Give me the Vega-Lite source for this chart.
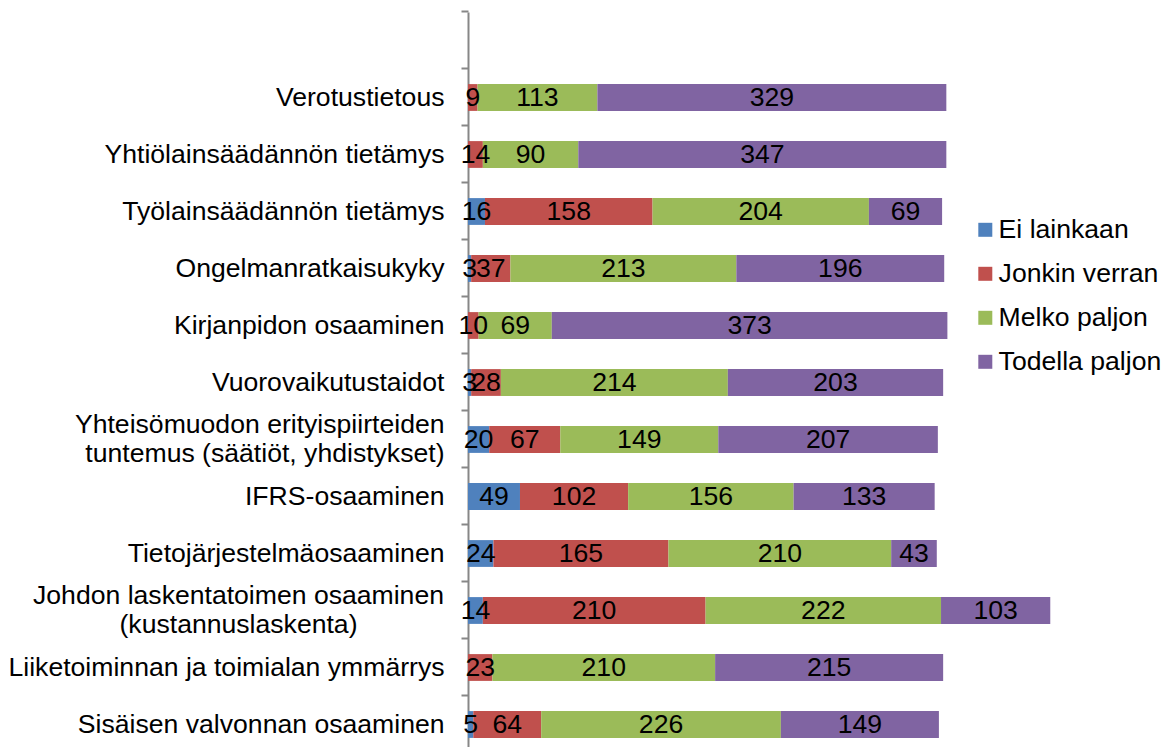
{
  "$schema": "https://vega.github.io/schema/vega-lite/v6.json",
  "width": 700,
  "height": 735,
  "autosize": {"type": "none"},
  "padding": {"left": 468, "top": 12, "right": 0, "bottom": 0},
  "background": "white",
  "config": {"view": {"stroke": null}},
  "data": {
    "values": [
      {"k": "Verotustietous", "v": "Jonkin verran", "n": 9},
      {"k": "Verotustietous", "v": "Melko paljon", "n": 113},
      {"k": "Verotustietous", "v": "Todella paljon", "n": 329},
      {"k": "Yhtiölainsäädännön tietämys", "v": "Jonkin verran", "n": 14},
      {"k": "Yhtiölainsäädännön tietämys", "v": "Melko paljon", "n": 90},
      {"k": "Yhtiölainsäädännön tietämys", "v": "Todella paljon", "n": 347},
      {"k": "Työlainsäädännön tietämys", "v": "Ei lainkaan", "n": 16},
      {"k": "Työlainsäädännön tietämys", "v": "Jonkin verran", "n": 158},
      {"k": "Työlainsäädännön tietämys", "v": "Melko paljon", "n": 204},
      {"k": "Työlainsäädännön tietämys", "v": "Todella paljon", "n": 69},
      {"k": "Ongelmanratkaisukyky", "v": "Ei lainkaan", "n": 3},
      {"k": "Ongelmanratkaisukyky", "v": "Jonkin verran", "n": 37},
      {"k": "Ongelmanratkaisukyky", "v": "Melko paljon", "n": 213},
      {"k": "Ongelmanratkaisukyky", "v": "Todella paljon", "n": 196},
      {"k": "Kirjanpidon osaaminen", "v": "Jonkin verran", "n": 10},
      {"k": "Kirjanpidon osaaminen", "v": "Melko paljon", "n": 69},
      {"k": "Kirjanpidon osaaminen", "v": "Todella paljon", "n": 373},
      {"k": "Vuorovaikutustaidot", "v": "Ei lainkaan", "n": 3},
      {"k": "Vuorovaikutustaidot", "v": "Jonkin verran", "n": 28},
      {"k": "Vuorovaikutustaidot", "v": "Melko paljon", "n": 214},
      {"k": "Vuorovaikutustaidot", "v": "Todella paljon", "n": 203},
      {"k": "Yhteisömuodon erityispiirteiden|tuntemus (säätiöt, yhdistykset)", "v": "Ei lainkaan", "n": 20},
      {"k": "Yhteisömuodon erityispiirteiden|tuntemus (säätiöt, yhdistykset)", "v": "Jonkin verran", "n": 67},
      {"k": "Yhteisömuodon erityispiirteiden|tuntemus (säätiöt, yhdistykset)", "v": "Melko paljon", "n": 149},
      {"k": "Yhteisömuodon erityispiirteiden|tuntemus (säätiöt, yhdistykset)", "v": "Todella paljon", "n": 207},
      {"k": "IFRS-osaaminen", "v": "Ei lainkaan", "n": 49},
      {"k": "IFRS-osaaminen", "v": "Jonkin verran", "n": 102},
      {"k": "IFRS-osaaminen", "v": "Melko paljon", "n": 156},
      {"k": "IFRS-osaaminen", "v": "Todella paljon", "n": 133},
      {"k": "Tietojärjestelmäosaaminen", "v": "Ei lainkaan", "n": 24},
      {"k": "Tietojärjestelmäosaaminen", "v": "Jonkin verran", "n": 165},
      {"k": "Tietojärjestelmäosaaminen", "v": "Melko paljon", "n": 210},
      {"k": "Tietojärjestelmäosaaminen", "v": "Todella paljon", "n": 43},
      {"k": "Johdon laskentatoimen osaaminen|(kustannuslaskenta)", "v": "Ei lainkaan", "n": 14},
      {"k": "Johdon laskentatoimen osaaminen|(kustannuslaskenta)", "v": "Jonkin verran", "n": 210},
      {"k": "Johdon laskentatoimen osaaminen|(kustannuslaskenta)", "v": "Melko paljon", "n": 222},
      {"k": "Johdon laskentatoimen osaaminen|(kustannuslaskenta)", "v": "Todella paljon", "n": 103},
      {"k": "Liiketoiminnan ja toimialan ymmärrys", "v": "Jonkin verran", "n": 23},
      {"k": "Liiketoiminnan ja toimialan ymmärrys", "v": "Melko paljon", "n": 210},
      {"k": "Liiketoiminnan ja toimialan ymmärrys", "v": "Todella paljon", "n": 215},
      {"k": "Sisäisen valvonnan osaaminen", "v": "Ei lainkaan", "n": 5},
      {"k": "Sisäisen valvonnan osaaminen", "v": "Jonkin verran", "n": 64},
      {"k": "Sisäisen valvonnan osaaminen", "v": "Melko paljon", "n": 226},
      {"k": "Sisäisen valvonnan osaaminen", "v": "Todella paljon", "n": 149}
    ]
  },
  "encoding": {
    "y": {
      "field": "k",
      "type": "nominal",
      "scale": {
        "domain": [" ", "Verotustietous", "Yhtiölainsäädännön tietämys", "Työlainsäädännön tietämys", "Ongelmanratkaisukyky", "Kirjanpidon osaaminen", "Vuorovaikutustaidot", "Yhteisömuodon erityispiirteiden|tuntemus (säätiöt, yhdistykset)", "IFRS-osaaminen", "Tietojärjestelmäosaaminen", "Johdon laskentatoimen osaaminen|(kustannuslaskenta)", "Liiketoiminnan ja toimialan ymmärrys", "Sisäisen valvonnan osaaminen"],
        "range": [0, 741],
        "paddingInner": 0.53,
        "paddingOuter": 0.265
      },
      "axis": {
        "title": null,
        "labelFont": "Liberation Sans",
        "labelFontSize": 26.6,
        "labelColor": "#000000",
        "labelPadding": {"condition": {"test": "indexof(datum.value, 'Johdon') >= 0", "value": 223}, "value": 17},
        "labelAlign": {"condition": {"test": "indexof(datum.value, 'Johdon') >= 0", "value": "center"}, "value": "right"},
        "labelOffset": {"condition": {"test": "indexof(datum.value, '|') >= 0", "value": -14.5}, "value": 0},
        "labelLimit": 600,
        "labelLineHeight": 29,
        "labelExpr": "split(datum.label, '|')",
        "tickSize": 7,
        "tickWidth": 2,
        "tickColor": "#878787",
        "domainColor": "#878787",
        "domainWidth": 2,
        "bandPosition": -0.564,
        "grid": false
      }
    }
  },
  "layer": [
    {
      "mark": {"type": "bar"},
      "encoding": {
        "x": {
          "field": "n",
          "type": "quantitative",
          "stack": "zero",
          "scale": {"domain": [0, 660], "nice": false},
          "axis": null
        },
        "color": {
          "field": "v",
          "type": "nominal",
          "scale": {
            "domain": ["Ei lainkaan", "Jonkin verran", "Melko paljon", "Todella paljon"],
            "range": ["#4F81BD", "#C0504D", "#9BBB59", "#8064A2"]
          },
          "legend": {
            "title": null,
            "orient": "none",
            "legendX": 504,
            "legendY": 204.5,
            "symbolType": "square",
            "symbolSize": 196,
            "symbolStrokeWidth": 0,
            "labelFont": "Liberation Sans",
            "labelFontSize": 26.6,
            "labelColor": "#000000",
            "labelOffset": 0,
            "labelLimit": 400,
            "rowPadding": 17,
            "padding": 0
          }
        },
        "order": {"field": "v", "type": "nominal", "sort": "ascending"}
      }
    },
    {
      "mark": {"type": "text", "font": "Liberation Sans", "fontSize": 26.6, "color": "#000000", "baseline": "middle", "align": "center"},
      "encoding": {
        "x": {
          "field": "n",
          "type": "quantitative",
          "stack": "zero",
          "bandPosition": 0.5
        },
        "detail": {"field": "v", "type": "nominal"},
        "order": {"field": "v", "type": "nominal", "sort": "ascending"},
        "text": {"field": "n", "type": "quantitative"}
      }
    }
  ]
}
